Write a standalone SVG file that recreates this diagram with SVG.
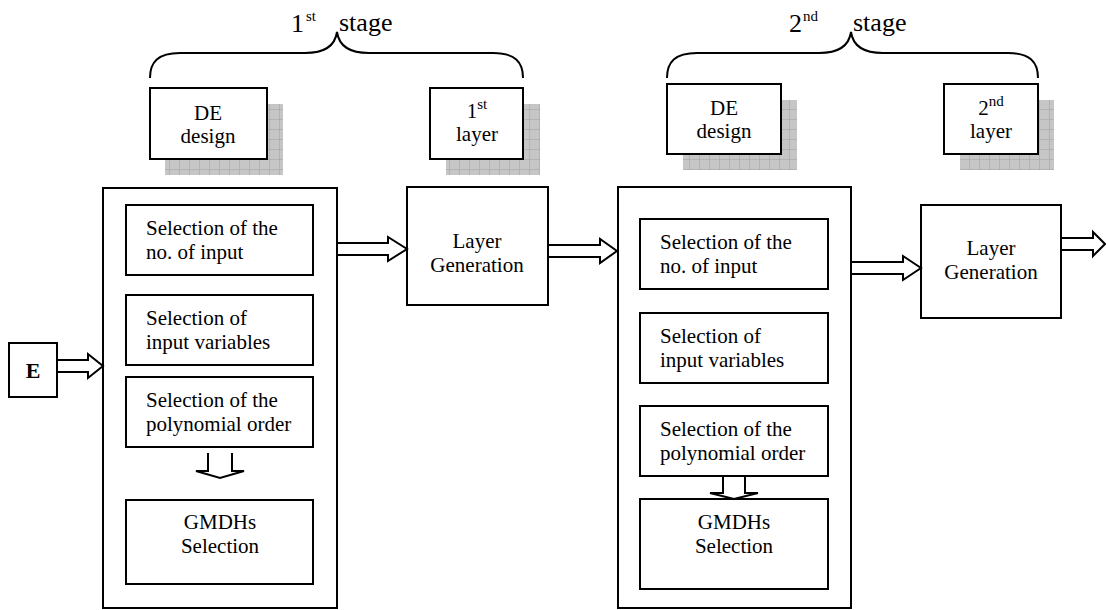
<svg xmlns="http://www.w3.org/2000/svg" width="1106" height="610" viewBox="0 0 1106 610">
<style>
  .box{fill:#fff;stroke:#000;stroke-width:2}
  .shadow{fill:url(#grid);stroke:none}
  .arr{fill:#fff;stroke:#000;stroke-width:2;stroke-linejoin:miter}
  .brace{fill:none;stroke:#000;stroke-width:2}
  text{font-family:"Liberation Serif","Times New Roman",serif;font-size:21px;fill:#000}
  .c{text-anchor:middle}
  .big{font-size:26px}
  .sup{font-size:15px}
  .bold{font-weight:bold;font-size:22px}
</style>
<defs>
  <pattern id="grid" width="10" height="10" patternUnits="userSpaceOnUse">
    <rect width="10" height="10" fill="#c6c6c6"/>
    <path d="M10,0 V10 M0,10 H10" stroke="#a0a0a0" stroke-width="1"/>
  </pattern>
</defs>

<g id="stage1">
  <path class="brace" d="M150,78 C150,62 158,53 180,53 L305,53 C325,53 335,46 337,32 C339,46 349,53 369,53 L493,53 C515,53 523,62 523,78"/>
  <text x="291" y="32" class="big">1</text>
  <text x="306" y="21" class="sup">st</text>
  <text x="339" y="31" class="big">stage</text>
</g>
<g id="stage2">
  <path class="brace" d="M667,78 C667,62 675,53 697,53 L819,53 C839,53 849,46 851,32 C853,46 863,53 883,53 L1008,53 C1030,53 1038,62 1038,78"/>
  <text x="789" y="32" class="big">2</text>
  <text x="803" y="21" class="sup">nd</text>
  <text x="853" y="31" class="big">stage</text>
</g>

<g id="de1">
  <rect class="shadow" x="165" y="104" width="118" height="71"/>
  <rect class="box" x="150" y="88" width="117" height="71"/>
  <text x="208" y="120" class="c">DE</text>
  <text x="208" y="143" class="c">design</text>
</g>
<g id="layer1">
  <rect class="shadow" x="446" y="104" width="94" height="71"/>
  <rect class="box" x="430" y="88" width="93" height="71"/>
  <text x="477" y="118" class="c">1<tspan class="sup" dy="-9">st</tspan></text>
  <text x="477" y="141" class="c">layer</text>
</g>
<g id="de2">
  <rect class="shadow" x="683" y="100" width="114" height="70"/>
  <rect class="box" x="667" y="84" width="114" height="70"/>
  <text x="724" y="115" class="c">DE</text>
  <text x="724" y="138" class="c">design</text>
</g>
<g id="layer2">
  <rect class="shadow" x="960" y="100" width="94" height="70"/>
  <rect class="box" x="944" y="84" width="94" height="70"/>
  <text x="991" y="115" class="c">2<tspan class="sup" dy="-9">nd</tspan></text>
  <text x="991" y="138" class="c">layer</text>
</g>

<g id="inputE">
  <rect class="box" x="9" y="343" width="48" height="54"/>
  <text x="33" y="378" class="c bold">E</text>
</g>

<g id="block1">
  <rect class="box" x="103" y="188" width="234" height="420"/>
</g>
<g id="b1n1">
  <rect class="box" x="126" y="205" width="187" height="70"/>
  <text x="146" y="235">Selection of the</text>
  <text x="146" y="259">no. of input</text>
</g>
<g id="b1n2">
  <rect class="box" x="126" y="295" width="187" height="70"/>
  <text x="146" y="325">Selection of</text>
  <text x="146" y="349">input variables</text>
</g>
<g id="b1n3">
  <rect class="box" x="126" y="377" width="187" height="70"/>
  <text x="146" y="407">Selection of the</text>
  <text x="146" y="431">polynomial order</text>
</g>
<g id="b1n4">
  <rect class="box" x="126" y="500" width="187" height="84"/>
  <text x="220" y="529" class="c">GMDHs</text>
  <text x="220" y="553" class="c">Selection</text>
</g>

<g id="lg1">
  <rect class="box" x="407" y="187" width="141" height="118"/>
  <text x="477" y="248" class="c">Layer</text>
  <text x="477" y="272" class="c">Generation</text>
</g>

<g id="block2">
  <rect class="box" x="618" y="187" width="233" height="421"/>
</g>
<g id="b2n1">
  <rect class="box" x="640" y="219" width="188" height="70"/>
  <text x="660" y="249">Selection of the</text>
  <text x="660" y="273">no. of input</text>
</g>
<g id="b2n2">
  <rect class="box" x="640" y="313" width="188" height="70"/>
  <text x="660" y="343">Selection of</text>
  <text x="660" y="367">input variables</text>
</g>
<g id="b2n3">
  <rect class="box" x="640" y="406" width="188" height="70"/>
  <text x="660" y="436">Selection of the</text>
  <text x="660" y="460">polynomial order</text>
</g>
<g id="b2n4">
  <rect class="box" x="640" y="499" width="188" height="90"/>
  <text x="734" y="529" class="c">GMDHs</text>
  <text x="734" y="553" class="c">Selection</text>
</g>

<g id="lg2">
  <rect class="box" x="921" y="205" width="140" height="113"/>
  <text x="991" y="255" class="c">Layer</text>
  <text x="991" y="279" class="c">Generation</text>
</g>

<g id="connectors">
  <polygon class="arr" points="57,360 88,360 88,354 103,366 88,378 88,372 57,372"/>
  <polygon class="arr" points="337,243 388,243 388,237 407,249 388,261 388,255 337,255"/>
  <polygon class="arr" points="548,245 600,245 600,239 617,251 600,263 600,257 548,257"/>
  <polygon class="arr" points="851,262 903,262 903,256 921,268 903,280 903,274 851,274"/>
  <polygon class="arr" points="1061,238 1093,238 1093,232 1105,244 1093,256 1093,250 1061,250"/>
  <polyline class="arr" points="208,453 208,471 196,471 220,478 244,471 232,471 232,453"/>
  <polygon class="arr" points="723,476 723,493 710,493 734,499 758,493 745,493 745,476"/>
</g>
</svg>
